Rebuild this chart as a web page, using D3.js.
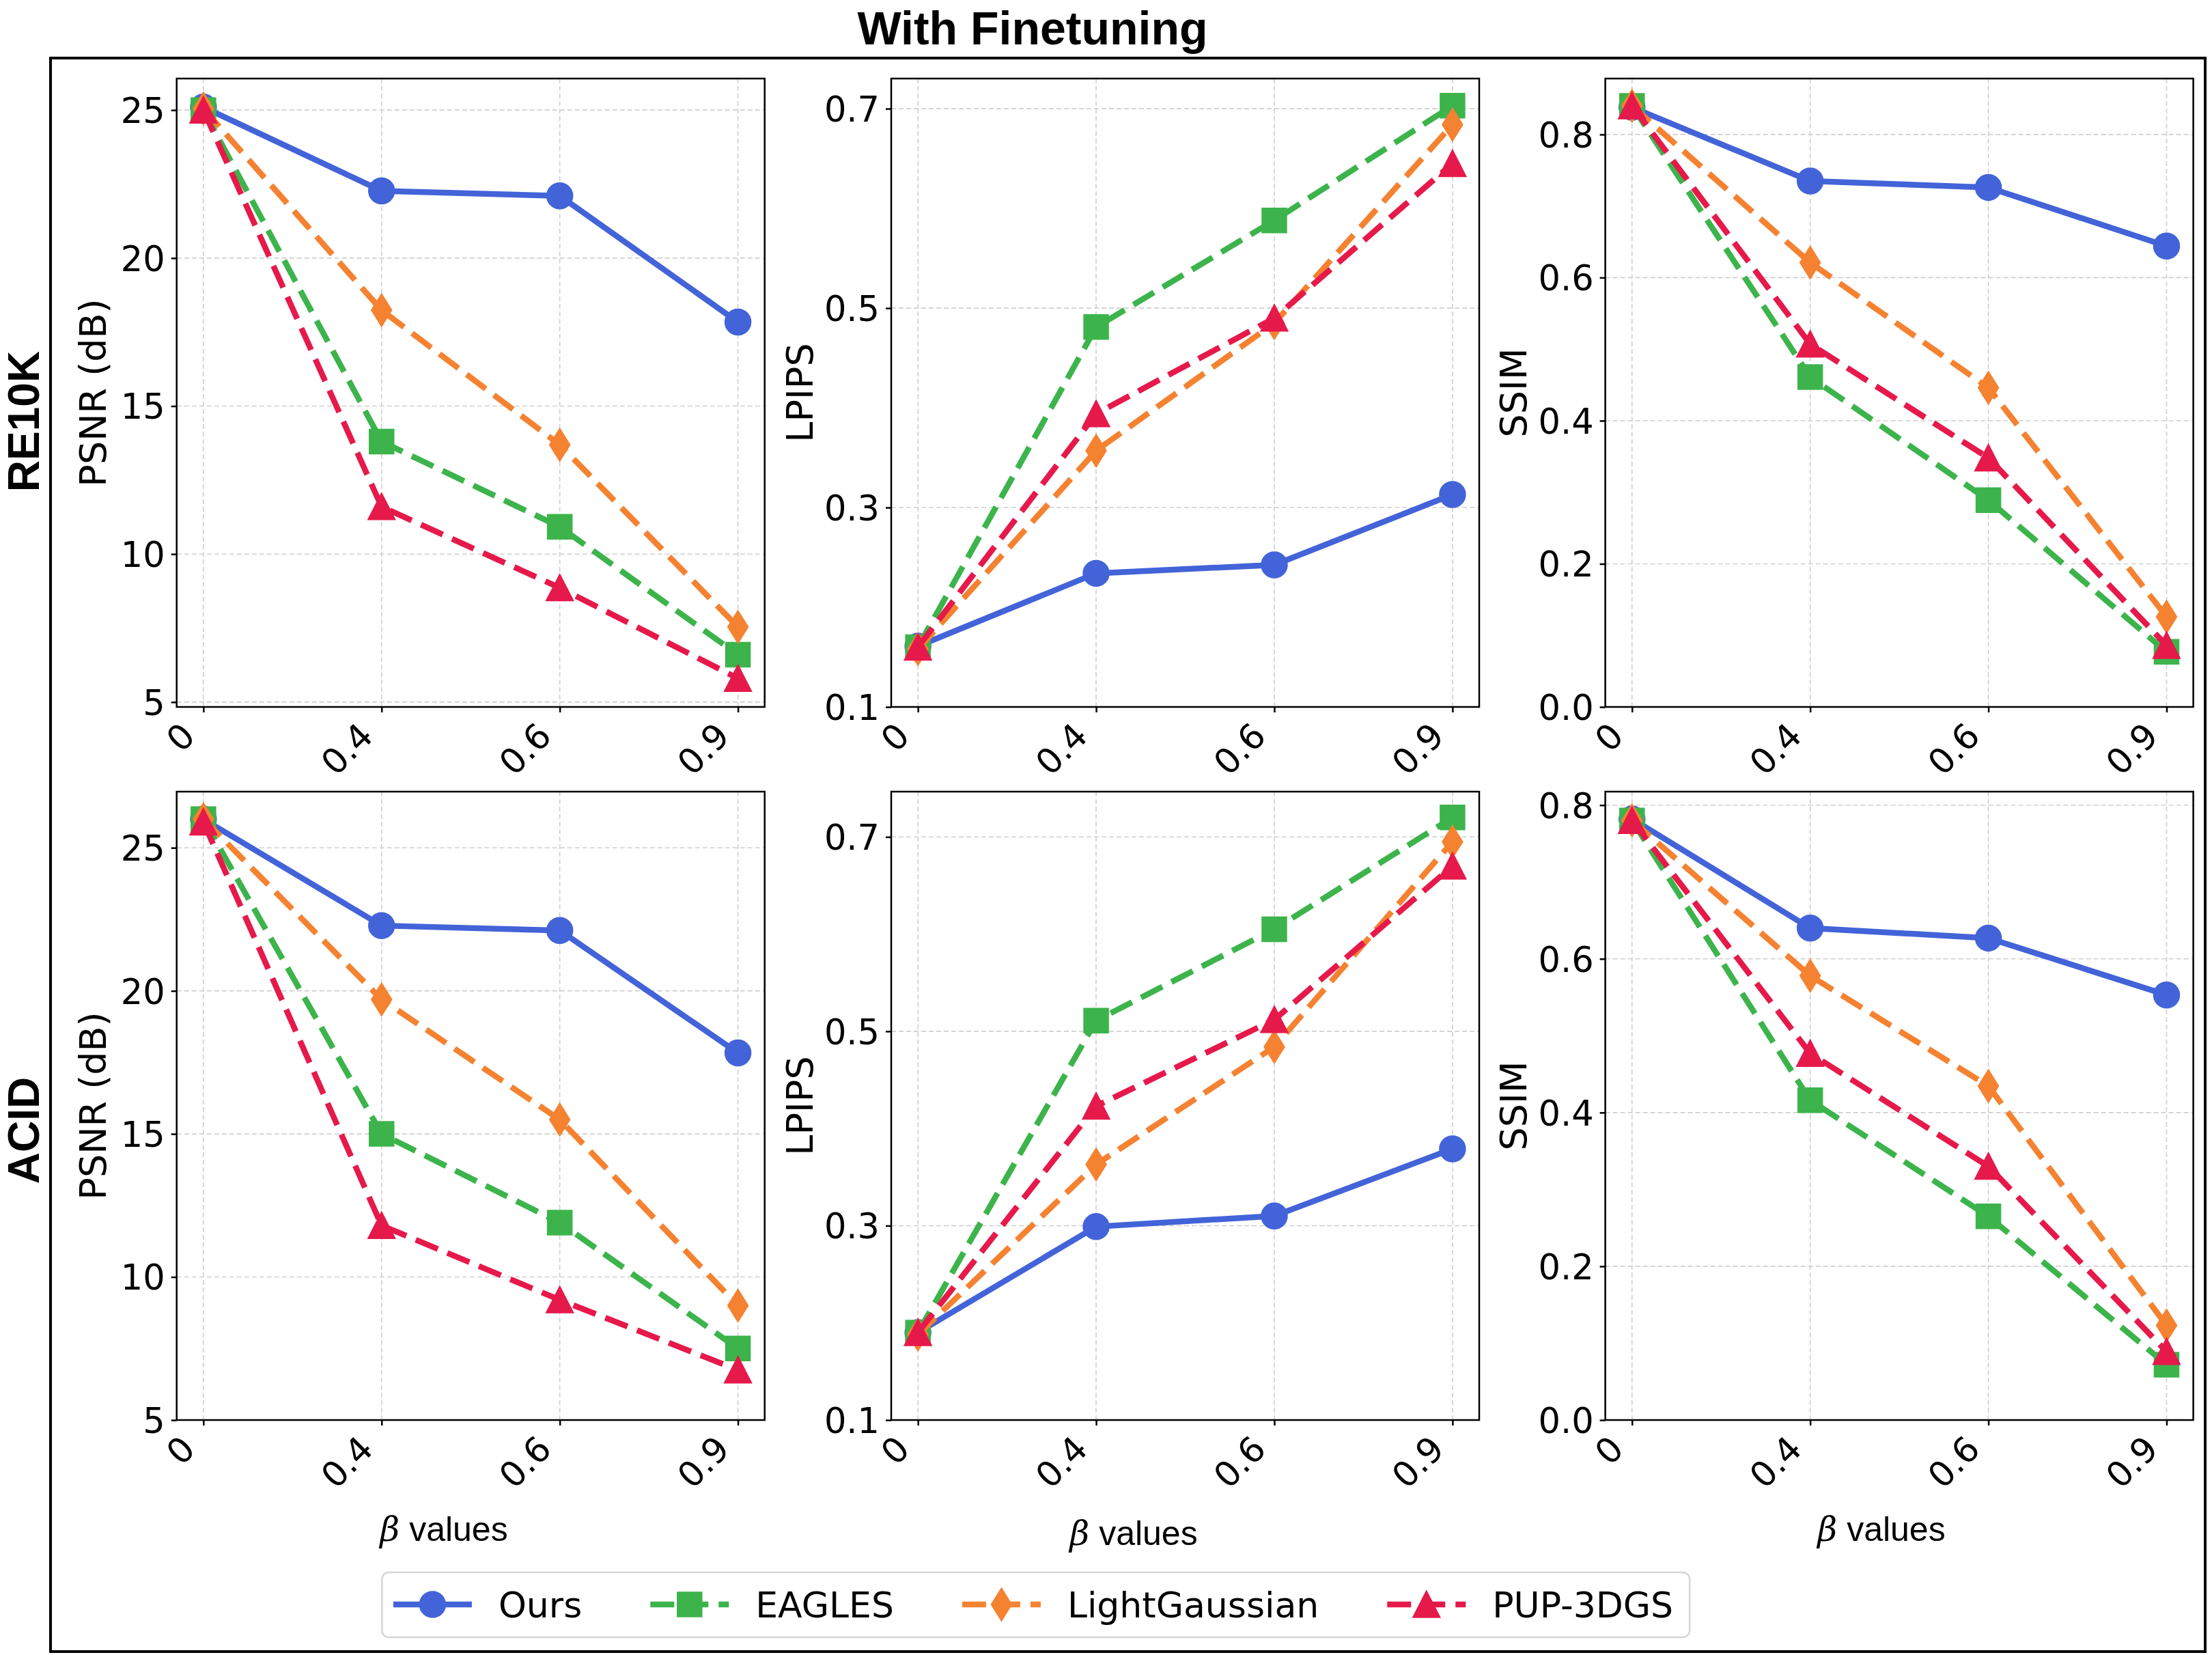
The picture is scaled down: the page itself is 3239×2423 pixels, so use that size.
<!DOCTYPE html>
<html>
<head>
  <meta charset="utf-8">
  <title>With Finetuning</title>
  <script src="https://d3js.org/d3.v7.min.js"></script>
  <style>
    body { margin: 0; background: #fff; }
    .tick text { font-family: "DejaVu Sans", sans-serif; font-size: 51px; fill: #000; }
    .tick line { stroke: #000; stroke-width: 2.5px; }
    .ylabel { font-family: "DejaVu Sans", sans-serif; font-size: 54px; }
    .rowlabel { font-family: "Liberation Sans", Arial, sans-serif; font-size: 64px; font-weight: bold; }
    .title { font-family: "Liberation Sans", Arial, sans-serif; font-size: 68px; font-weight: bold; }
    .xlabel { font-family: "Liberation Sans", Arial, sans-serif; font-size: 50px; }
    .legend text { font-family: "DejaVu Sans", sans-serif; font-size: 52px; }
    .grid { stroke: #cfcfcf; stroke-width: 1.6px; stroke-dasharray: 7 4; }
  </style>
</head>
<body>
<svg id="chart" width="3239" height="2423"></svg>
<script>
  // x categories
  var betaValues = ["0", "0.4", "0.6", "0.9"];
  var methods = ["Ours", "EAGLES", "LightGaussian", "PUP-3DGS"];
  var datasets = ["RE10K", "ACID"];

  // one row per method, in the order of `methods`
  var re10kPsnr = [
    [25.1, 22.27, 22.1, 17.84],
    [25.0, 13.8, 10.92, 6.6],
    [25.05, 18.24, 13.69, 7.54],
    [25.0, 11.6, 8.86, 5.8]
  ];
  var re10kLpips = [
    [0.161, 0.234, 0.2425, 0.313],
    [0.16, 0.481, 0.588, 0.703],
    [0.158, 0.357, 0.485, 0.684],
    [0.16, 0.394, 0.49, 0.645]
  ];
  var re10kSsim = [
    [0.838, 0.735, 0.726, 0.644],
    [0.84, 0.461, 0.289, 0.077],
    [0.84, 0.621, 0.446, 0.126],
    [0.84, 0.507, 0.348, 0.086]
  ];
  var acidPsnr = [
    [26.0, 22.28, 22.11, 17.83],
    [26.0, 15.0, 11.9, 7.5],
    [26.0, 19.7, 15.5, 9.0],
    [25.9, 11.8, 9.2, 6.75]
  ];
  var acidLpips = [
    [0.19, 0.299, 0.31, 0.379],
    [0.19, 0.511, 0.605, 0.72],
    [0.188, 0.363, 0.484, 0.695],
    [0.19, 0.423, 0.512, 0.67]
  ];
  var acidSsim = [
    [0.782, 0.64, 0.627, 0.553],
    [0.78, 0.416, 0.265, 0.072],
    [0.78, 0.578, 0.4345, 0.123],
    [0.78, 0.477, 0.33, 0.089]
  ];

  // y tick values
  var psnrTicks = [5, 10, 15, 20, 25];
  var lpipsTicks = [0.1, 0.3, 0.5, 0.7];
  var ssimTicks = [0.0, 0.2, 0.4, 0.6, 0.8];

  var colors = ["#4363d8", "#3cb44b", "#f58231", "#e6194b"];
  var shapes = ["circle", "square", "thin_diamond", "triangle"];

  var svg = d3.select("#chart");

  // marker shapes (matplotlib-like o, s, d, ^)
  var symbolTypes = {
    circle: { draw: function(c) { c.moveTo(19, 0); c.arc(0, 0, 19, 0, 2 * Math.PI); } },
    square: { draw: function(c) { c.rect(-18, -18, 36, 36); } },
    thin_diamond: { draw: function(c) { c.moveTo(0, -24); c.lineTo(15, 0); c.lineTo(0, 24); c.lineTo(-15, 0); c.closePath(); } },
    triangle: { draw: function(c) { c.moveTo(0, -20); c.lineTo(20, 19); c.lineTo(-20, 19); c.closePath(); } }
  };
  function marker(i) { return d3.symbol().type(symbolTypes[shapes[i]])(); }
  function dash(i) { return i === 0 ? null : "35 15"; }

  // panel layout
  var colLeft = [258.7, 1305, 2350.6];
  var rowTop = [115, 1159];
  var panelW = 861, panelH = 920;

  var panels = [
    { row: 0, col: 0, values: re10kPsnr, ticks: psnrTicks, fmt: d3.format("d"), yMin: null, label: "PSNR (dB)", labOff: 104 },
    { row: 0, col: 1, values: re10kLpips, ticks: lpipsTicks, fmt: d3.format(".1f"), yMin: 0.1, label: "LPIPS", labOff: 115 },
    { row: 0, col: 2, values: re10kSsim, ticks: ssimTicks, fmt: d3.format(".1f"), yMin: 0, label: "SSIM", labOff: 116 },
    { row: 1, col: 0, values: acidPsnr, ticks: psnrTicks, fmt: d3.format("d"), yMin: 5, label: "PSNR (dB)", labOff: 104 },
    { row: 1, col: 1, values: acidLpips, ticks: lpipsTicks, fmt: d3.format(".1f"), yMin: 0.1, label: "LPIPS", labOff: 115 },
    { row: 1, col: 2, values: acidSsim, ticks: ssimTicks, fmt: d3.format(".1f"), yMin: 0, label: "SSIM", labOff: 116 }
  ];

  // outer frame and title
  svg.append("rect").attr("x", 74).attr("y", 85).attr("width", 3155).attr("height", 2333)
    .attr("fill", "none").attr("stroke", "#000").attr("stroke-width", 4);
  svg.append("text").attr("class", "title").attr("x", 1512).attr("y", 65)
    .attr("text-anchor", "middle").text("With Finetuning");

  // row labels
  var rowLabelY = [617, 1655];
  datasets.forEach(function(d, i) {
    svg.append("text").attr("class", "rowlabel")
      .attr("transform", "translate(57," + rowLabelY[i] + ") rotate(-90)")
      .attr("text-anchor", "middle").text(d);
  });

  panels.forEach(function(p) {
    var left = colLeft[p.col], top = rowTop[p.row];
    var flat = d3.merge(p.values);
    var lo = d3.min(flat), hi = d3.max(flat), span = hi - lo;
    var y0 = p.yMin === null ? lo - 0.05 * span : p.yMin;
    var y1 = hi + 0.05 * span;

    var x = d3.scalePoint().domain(betaValues).range([0, panelW]).padding(0.15);
    var y = d3.scaleLinear().domain([y0, y1]).range([panelH, 0]);

    var g = svg.append("g").attr("transform", "translate(" + left + "," + top + ")");

    // grid
    g.selectAll(".gy").data(p.ticks).enter().append("line").attr("class", "grid")
      .attr("x1", 0).attr("x2", panelW).attr("y1", function(d) { return y(d); }).attr("y2", function(d) { return y(d); });
    g.selectAll(".gx").data(betaValues).enter().append("line").attr("class", "grid")
      .attr("y1", 0).attr("y2", panelH).attr("x1", function(d) { return x(d); }).attr("x2", function(d) { return x(d); });

    // axes
    var ya = g.append("g").call(d3.axisLeft(y).tickValues(p.ticks).tickFormat(p.fmt).tickSize(8).tickPadding(9).tickSizeOuter(0));
    ya.select(".domain").remove();
    ya.selectAll("text").attr("dy", "0.36em");

    var xa = g.append("g").attr("transform", "translate(0," + panelH + ")")
      .call(d3.axisBottom(x).tickSize(8).tickSizeOuter(0));
    xa.select(".domain").remove();
    xa.selectAll("text")
      .attr("x", -10).attr("y", 45.5).attr("dy", 0)
      .attr("text-anchor", "end")
      .attr("transform", "rotate(-45,-10,45.5)");

    // series
    var line = d3.line().x(function(d, i) { return x(betaValues[i]); }).y(function(d) { return y(d); });
    p.values.forEach(function(vals, m) {
      g.append("path").datum(vals).attr("d", line)
        .attr("fill", "none").attr("stroke", colors[m]).attr("stroke-width", 8.5)
        .attr("stroke-dasharray", dash(m));
      g.selectAll(".m" + m).data(vals).enter().append("path")
        .attr("transform", function(d, i) { return "translate(" + x(betaValues[i]) + "," + y(d) + ")"; })
        .attr("d", marker(m)).attr("fill", colors[m]).attr("stroke", colors[m]).attr("stroke-width", 1.5);
    });

    // spines
    g.append("rect").attr("width", panelW).attr("height", panelH)
      .attr("fill", "none").attr("stroke", "#000").attr("stroke-width", 2.5);

    // y label
    svg.append("text").attr("class", "ylabel")
      .attr("transform", "translate(" + (left - p.labOff) + "," + (top + panelH / 2) + ") rotate(-90)")
      .attr("text-anchor", "middle").text(p.label);
  });

  // x labels
  var xLabelPos = [[650, 2256], [1660, 2262], [2755, 2256]];
  xLabelPos.forEach(function(pos) {
    var t = svg.append("text").attr("class", "xlabel").attr("x", pos[0]).attr("y", pos[1]).attr("text-anchor", "middle");
    t.append("tspan").attr("font-family", "DejaVu Serif, serif").attr("font-style", "italic").text("\u03b2");
    t.append("tspan").text(" values");
  });

  // legend
  var leg = svg.append("g").attr("class", "legend");
  var box = leg.append("rect");
  var cy = 2349, cursor = 0, handleLen = 115;
  var items = leg.append("g");
  methods.forEach(function(name, m) {
    var it = items.append("g").attr("transform", "translate(" + cursor + ",0)");
    it.append("line").attr("x1", 0).attr("x2", handleLen).attr("y1", 0).attr("y2", 0)
      .attr("stroke", colors[m]).attr("stroke-width", 8.5).attr("stroke-dasharray", dash(m));
    it.append("path").attr("transform", "translate(" + handleLen / 2 + ",0)")
      .attr("d", marker(m)).attr("fill", colors[m]).attr("stroke", colors[m]).attr("stroke-width", 1.5);
    var t = it.append("text").attr("x", handleLen + 39).attr("y", 0).attr("dy", "0.36em").text(name);
    cursor += handleLen + 39 + t.node().getComputedTextLength() + 100;
  });
  var contentW = cursor - 100;
  var legLeft = 1513 - contentW / 2;
  items.attr("transform", "translate(" + legLeft + "," + cy + ")");
  box.attr("x", legLeft - 16.5).attr("y", 2302).attr("width", contentW + 16.5 + 24).attr("height", 95)
    .attr("rx", 10).attr("fill", "#fff").attr("stroke", "#d6d6d6").attr("stroke-width", 2.5);
</script>
</body>
</html>
